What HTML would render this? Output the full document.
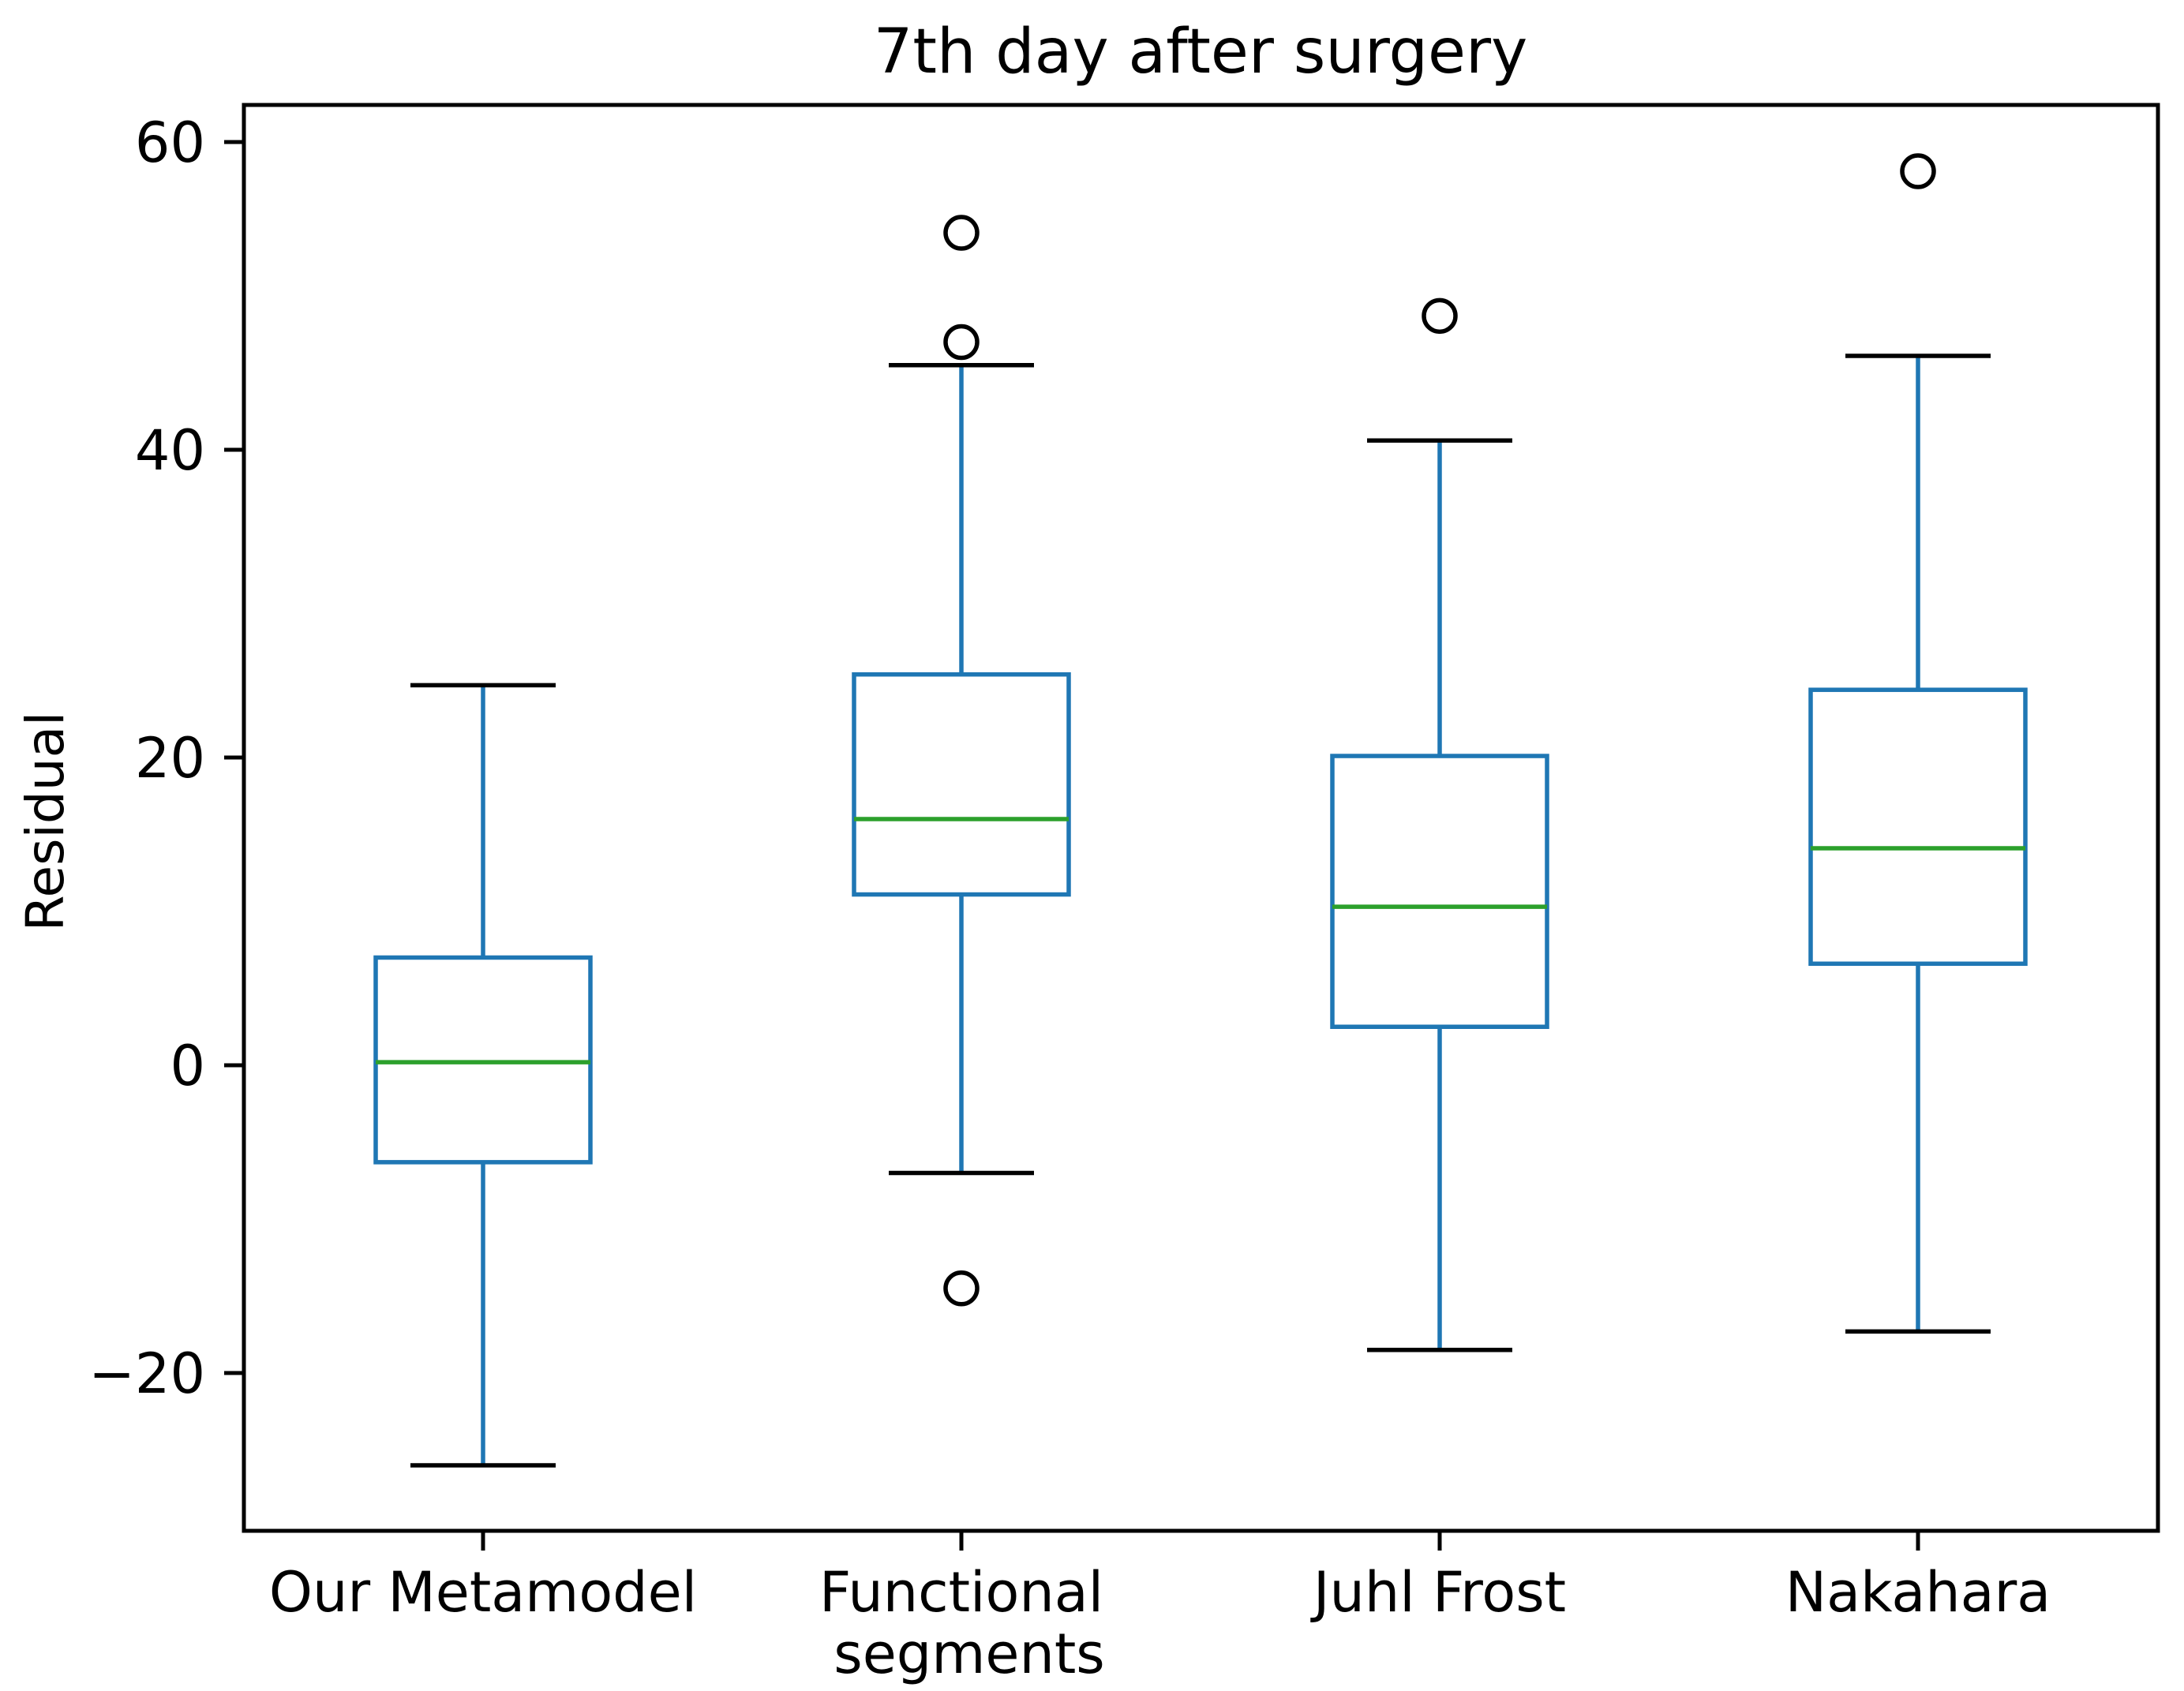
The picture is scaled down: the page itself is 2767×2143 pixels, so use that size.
<!DOCTYPE html>
<html><head><meta charset="utf-8"><style>
html,body{margin:0;padding:0;background:#fff;}
svg{display:block;font-family:"DejaVu Sans","Liberation Sans",sans-serif;}
</style></head><body>
<svg id="chart" width="2767" height="2143" viewBox="0 0 2767 2143">
<rect width="2767" height="2143" fill="#fff"/>
<text x="1521" y="92" font-size="78" text-anchor="middle">7th day after surgery</text>
<text transform="translate(80,1041) rotate(-90)" font-size="66" text-anchor="middle">Residual</text>
<g id="yticks"></g>
<g id="xticks"></g>
<g id="boxes"></g>
<rect x="309" y="133" width="2425" height="1807" fill="none" stroke="#000" stroke-width="5"/>
</svg>
<script>
const categories = ["Our Metamodel", "Functional\nsegments", "Juhl Frost", "Nakahara"];
const whiskerLow = [-26, -7, -18.5, -17.3];
const q1 = [-6.3, 11.1, 2.5, 6.6];
const medians = [0.2, 16, 10.3, 14.1];
const q3 = [7, 25.4, 20.1, 24.4];
const whiskerHigh = [24.7, 45.5, 40.6, 46.1];
const fliers = [[], [54.1, 47, -14.5], [48.7], [58.1]];
const yTicks = [-20, 0, 20, 40, 60];
const yTickLabels = ["\u221220", "0", "20", "40", "60"];

const NS = "http://www.w3.org/2000/svg";
const SW = 5.5;
const y = v => 1350 - v * 19.5;
const x = i => 612 + i * 606;
function mk(tag, attrs, parent) {
  const e = document.createElementNS(NS, tag);
  for (const k in attrs) e.setAttribute(k, attrs[k]);
  parent.appendChild(e);
  return e;
}
const yt = document.getElementById('yticks');
yTicks.forEach((v, i) => {
  const l = mk('line', {x1: 284, x2: 309, y1: y(v), y2: y(v), stroke: '#000', 'stroke-width': 5}, yt);
  
  
  const t = mk('text', {x: 260, y: y(v) + 25, 'font-size': 70, 'text-anchor': 'end'}, yt);
  t.textContent = yTickLabels[i];
  
  
});
const xt = document.getElementById('xticks');
categories.forEach((c, i) => {
  const l = mk('line', {x1: x(i), x2: x(i), y1: 1940, y2: 1965, stroke: '#000', 'stroke-width': 5}, xt);
  
  
  c.split("\n").forEach((line, j) => {
    const t = mk('text', {x: x(i) + (j ? 10 : 0), y: 2042 + j * 78, 'font-size': 70, 'text-anchor': 'middle'}, xt);
    t.textContent = line;
    
    
  });
});
const bx = document.getElementById('boxes');
categories.forEach((c, i) => {
  const cx = x(i);
  const g = mk('g', {}, bx);
  
  
  const w1 = mk('line', {x1: cx, x2: cx, y1: y(q1[i]), y2: y(whiskerLow[i]), stroke: '#1f77b4', 'stroke-width': SW}, g);
  
  
  const w2 = mk('line', {x1: cx, x2: cx, y1: y(q3[i]), y2: y(whiskerHigh[i]), stroke: '#1f77b4', 'stroke-width': SW}, g);
  
  
  [whiskerLow[i], whiskerHigh[i]].forEach(v => {
    const cap = mk('line', {x1: cx - 92, x2: cx + 92, y1: y(v), y2: y(v), stroke: '#000', 'stroke-width': SW}, g);
    
    
  });
  const r = mk('rect', {x: cx - 136, y: y(q3[i]), width: 272, height: y(q1[i]) - y(q3[i]), fill: 'none', stroke: '#1f77b4', 'stroke-width': SW}, g);
  
  
  const m = mk('line', {x1: cx - 136, x2: cx + 136, y1: y(medians[i]), y2: y(medians[i]), stroke: '#2ca02c', 'stroke-width': SW}, g);
  
  
  fliers[i].forEach(v => {
    const f = mk('circle', {cx: cx, cy: y(v), r: 20, fill: 'none', stroke: '#000', 'stroke-width': SW}, g);
    
    
  });
});
</script>
</body></html>
